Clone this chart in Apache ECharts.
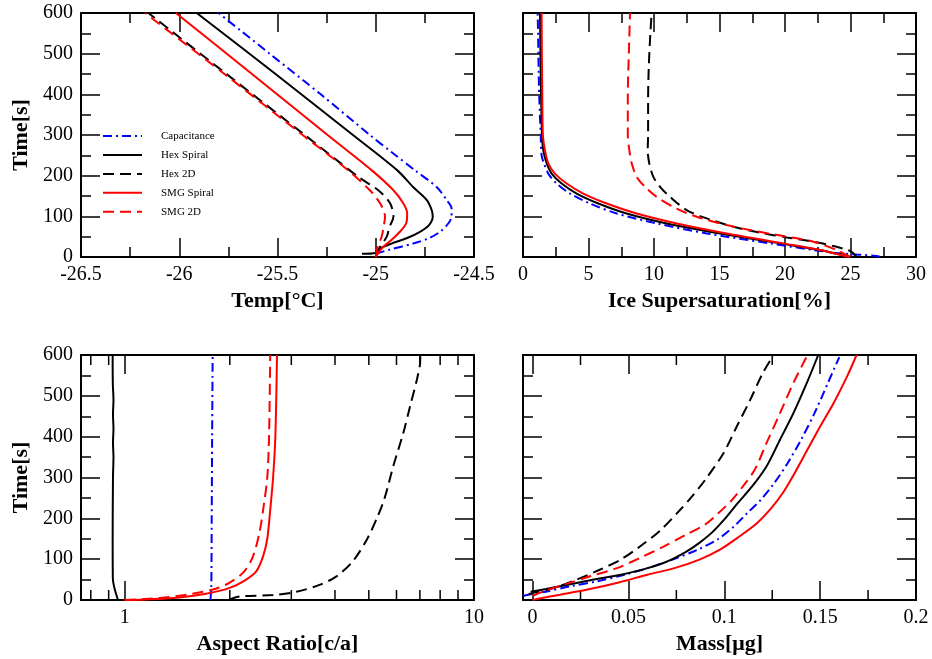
<!DOCTYPE html>
<html>
<head>
<meta charset="utf-8">
<script src="https://cdn.jsdelivr.net/npm/echarts@6/dist/echarts.min.js"></script>
<style>html,body{margin:0;padding:0;background:#fff}#c{width:932px;height:659px}</style>
</head>
<body>
<div id="c"></div>
<script>
// ---------- data: [x, time(s)] ----------
const seriesNames = ['Capacitance', 'Hex Spiral', 'Hex 2D', 'SMG Spiral', 'SMG 2D'];

// Panel 1: Temperature [°C]
const tempCap   = [[-25.0,8],[-24.93,18],[-24.81,33],[-24.73,46],[-24.673,62],[-24.63,83],[-24.614,100],[-24.614,119],[-24.639,140],[-24.69,172],[-24.80,213],[-24.92,258],[-25.03,300],[-25.28,400],[-25.54,500],[-25.80,600]];
const tempHexSp = [[-25.07,8],[-25.0,10],[-24.978,21],[-24.92,33],[-24.843,46],[-24.775,62],[-24.73,78],[-24.71,99],[-24.715,115],[-24.74,140],[-24.81,172],[-24.89,213],[-25.116,300],[-25.51,450],[-25.911,600]];
const tempHex2D = [[-25.0,3],[-24.978,25],[-24.944,50],[-24.93,74],[-24.91,99],[-24.927,132],[-24.987,164],[-25.089,197],[-25.361,300],[-25.76,450],[-26.157,600]];
const tempSmgSp = [[-25.0,0],[-24.97,21],[-24.92,42],[-24.877,62],[-24.845,83],[-24.84,107],[-24.86,132],[-24.91,164],[-25.02,213],[-25.245,300],[-25.63,450],[-26.017,600]];
const tempSmg2D = [[-25.0,0],[-24.99,25],[-24.97,50],[-24.96,74],[-24.953,99],[-24.978,132],[-25.03,164],[-25.14,213],[-25.372,300],[-25.77,450],[-26.174,600]];

// Panel 2: Ice supersaturation [%]
const supCap   = [[27.25,0],[27.0,2.5],[24.2,9],[22.16,17.2],[18.85,33.5],[14.02,58],[10.2,82.6],[7.15,107],[5.11,131.6],[3.59,156],[2.57,180.6],[1.93,205],[1.6,230],[1.42,250],[1.35,300],[1.25,385],[1.2,450],[1.15,550],[1.12,600]];
const supHexSp = [[24.96,0],[22.67,17.2],[19.62,33.5],[15.04,58],[10.97,82.6],[7.91,107],[5.75,131.6],[4.1,156],[2.95,180.6],[2.19,205],[1.81,230],[1.55,262],[1.45,300],[1.38,400],[1.33,500],[1.3,600]];
const supHex2D = [[25.47,0],[25.09,13],[24.58,18.8],[23.94,25.3],[22.16,37.6],[20.13,48.2],[18.09,59.7],[16.06,74.4],[14.02,95],[12.49,115.5],[11.22,148],[10.46,172.5],[9.95,197],[9.64,230],[9.52,262],[9.55,300],[9.55,385],[9.6,467],[9.72,548],[9.82,600]];
const supSmgSp = [[24.96,0],[24.58,2.5],[22.67,17.2],[19.87,33.5],[15.55,58],[11.73,82.6],[8.68,107],[6.39,131.6],[4.6,156],[3.33,180.6],[2.44,205],[1.93,230],[1.68,262],[1.52,300],[1.47,400],[1.44,500],[1.42,600]];
const supSmg2D = [[24.96,0],[24.83,2.5],[23.94,17.2],[22.16,37.6],[19.87,51.5],[17.58,64.6],[15.55,78.5],[13.26,99],[11.73,119],[10.2,148],[9.31,172.5],[8.68,197],[8.3,230],[8.12,262],[8.0,300],[8.0,400],[8.08,500],[8.17,600]];

// Panel 3: Aspect ratio [c/a] (log axis)
const arCap   = [[1.76,0],[1.77,30],[1.775,200],[1.78,400],[1.786,600]];
const arHexSp = [[0.957,0],[0.925,54],[0.924,150],[0.926,300],[0.929,350],[0.926,385],[0.929,420],[0.926,455],[0.929,490],[0.925,530],[0.924,600]];
const arHex2D = [[1.99,0],[2.05,5],[2.15,9],[2.66,12],[3.1,20],[3.61,37],[4.04,58],[4.5,95],[4.95,150],[5.3,205],[5.55,250],[5.87,327],[6.27,408],[6.56,474],[6.86,539],[7.0,575],[7.02,600]];
const arSmgSp = [[1.0,0],[1.15,1.5],[1.43,6.4],[1.71,15.4],[1.99,29],[2.2,47],[2.38,70],[2.49,107],[2.56,150],[2.61,220],[2.66,300],[2.70,400],[2.73,600]];
const arSmg2D = [[1.0,0],[1.26,5],[1.56,15],[1.83,28],[2.02,45],[2.2,70],[2.33,107],[2.43,164],[2.5,230],[2.56,300],[2.59,400],[2.61,600]];

// Panel 4: Mass [µg]
const massCap   = [[-0.005,10],[0.0,15],[0.0075,21],[0.02,34],[0.034,46],[0.048,62],[0.06,78],[0.073,99],[0.086,123],[0.097,150],[0.105,180],[0.112,213],[0.119,245],[0.126,286],[0.133,335],[0.14,392],[0.147,457],[0.154,531],[0.16,595]];
const massHexSp = [[-0.001,20],[0.007,27],[0.019,38],[0.032,50],[0.046,62],[0.06,78],[0.07,94],[0.08,118],[0.087,140],[0.0935,165],[0.1005,200],[0.107,237],[0.1145,278],[0.122,327],[0.129,392],[0.136,457],[0.143,531],[0.149,600]];
const massHex2D = [[-0.002,14],[0.0,17],[0.011,29],[0.023,50],[0.035,74],[0.046,99],[0.056,131],[0.067,172],[0.077,221],[0.0825,250],[0.09,294],[0.0995,359],[0.1065,425],[0.1135,490],[0.12,555],[0.1257,600]];
const massSmgSp = [[0,0],[0.0023,2.4],[0.0144,13],[0.028,25],[0.045,43],[0.06,62],[0.074,78],[0.087,99],[0.098,124],[0.108,156],[0.117,188],[0.1245,225],[0.1305,262],[0.136,305],[0.143,365],[0.15,425],[0.157,482],[0.164,547],[0.169,600]];
const massSmg2D = [[0.0,10],[0.005,20],[0.018,40],[0.03,58],[0.044,78],[0.056,103],[0.068,130],[0.08,160],[0.09,185],[0.097,213],[0.104,245],[0.11,280],[0.116,320],[0.122,384],[0.129,457],[0.136,531],[0.1434,600]];

// minor tick values drawn on the log and mass axes
const logMinorTicks  = [0.8, 0.9, 2, 3, 4, 5, 6, 7, 8, 9];
const massMinorTicks = [0.025, 0.075, 0.125, 0.175];

const panelData = [
  [tempCap, tempHexSp, tempHex2D, tempSmgSp, tempSmg2D],
  [supCap, supHexSp, supHex2D, supSmgSp, supSmg2D],
  [arCap, arHexSp, arHex2D, arSmgSp, arSmg2D],
  [massCap, massHexSp, massHex2D, massSmgSp, massSmg2D]
];

// ---------- styling ----------
const FONT = 'Liberation Serif';
const lineStyles = [
  {color: '#0000ff', type: [9, 4, 2, 4]},
  {color: '#000000', type: 'solid'},
  {color: '#000000', type: [11, 6]},
  {color: '#ff0000', type: 'solid'},
  {color: '#ff0000', type: [11, 6]}
];

const grids = [
  {left: 81, top: 13, width: 393, height: 244},
  {left: 523, top: 13, width: 393, height: 244},
  {left: 81, top: 355, width: 393, height: 245},
  {left: 523, top: 355, width: 393, height: 245}
];

function baseAxis(gridIndex, position, showLabel, minor) {
  return {
    gridIndex: gridIndex,
    position: position,
    axisLine: {show: true, onZero: false, lineStyle: {color: '#000', width: 2}},
    axisTick: {show: true, inside: true, length: 19, lineStyle: {color: '#000', width: 1.5}},
    minorTick: {show: minor, splitNumber: 2, length: 10, lineStyle: {color: '#000', width: 1.5}},
    splitLine: {show: false},
    minorSplitLine: {show: false},
    axisLabel: {show: showLabel, fontFamily: FONT, fontSize: 20, color: '#000', margin: 8},
    nameTextStyle: {fontFamily: FONT, fontSize: 22, fontWeight: 'bold', color: '#000'}
  };
}

const xSpecs = [
  {type: 'value', min: -26.5, max: -24.5, interval: 0.5, name: 'Temp[°C]', minor: true},
  {type: 'value', min: 0, max: 30, interval: 5, name: 'Ice Supersaturation[%]', minor: true},
  {type: 'log', min: 0.75, max: 10, logBase: 10, name: 'Aspect Ratio[c/a]', minor: false, hideMin: true},
  {type: 'value', min: -0.005, max: 0.2, splitNumber: 4, name: 'Mass[μg]', minor: false, hideMin: true}
];

const xAxes = [], yAxes = [];
xSpecs.forEach(function (sp, g) {
  const bottom = Object.assign(baseAxis(g, 'bottom', true, sp.minor), {
    type: sp.type, min: sp.min, max: sp.max,
    name: sp.name, nameLocation: 'middle', nameGap: 33
  });
  if (sp.interval) bottom.interval = sp.interval;
  if (sp.splitNumber) bottom.splitNumber = sp.splitNumber;
  if (sp.logBase) bottom.logBase = sp.logBase;
  if (sp.hideMin) bottom.axisLabel.showMinLabel = false;
  const top = Object.assign(baseAxis(g, 'top', false, sp.minor), {
    type: sp.type, min: sp.min, max: sp.max
  });
  if (sp.interval) top.interval = sp.interval;
  if (sp.splitNumber) top.splitNumber = sp.splitNumber;
  if (sp.logBase) top.logBase = sp.logBase;
  xAxes.push(bottom, top);

  const leftLabels = (g === 0 || g === 2);
  const left = Object.assign(baseAxis(g, 'left', leftLabels, true), {
    type: 'value', min: 0, max: 600, interval: 100
  });
  if (leftLabels) {
    left.name = 'Time[s]';
    left.nameLocation = 'middle';
    left.nameGap = 49;
  }
  const right = Object.assign(baseAxis(g, 'right', false, true), {
    type: 'value', min: 0, max: 600, interval: 100
  });
  yAxes.push(left, right);
});

const series = [];
panelData.forEach(function (list, g) {
  list.forEach(function (d, s) {
    series.push({
      type: 'line',
      name: seriesNames[s],
      xAxisIndex: g * 2,
      yAxisIndex: g * 2,
      data: d,
      symbol: 'none',
      showSymbol: false,
      smooth: 0.3,
      silent: true,
      lineStyle: {color: lineStyles[s].color, width: 2, type: lineStyles[s].type},
      itemStyle: {color: lineStyles[s].color}
    });
  });
});

function minorTickSeries(g, values) {
  return {
    type: 'custom',
    xAxisIndex: g * 2,
    yAxisIndex: g * 2,
    silent: true,
    clip: false,
    data: values.map(function (v) { return [v, 0]; }),
    encode: {x: 0, y: 1},
    renderItem: function (params, api) {
      const v = api.value(0);
      const b = api.coord([v, 0]);
      const t = api.coord([v, 600]);
      const st = {stroke: '#000', lineWidth: 1.5};
      return {
        type: 'group',
        children: [
          {type: 'line', shape: {x1: b[0], y1: b[1], x2: b[0], y2: b[1] - 10}, style: st},
          {type: 'line', shape: {x1: t[0], y1: t[1], x2: t[0], y2: t[1] + 10}, style: st}
        ]
      };
    }
  };
}
series.push(minorTickSeries(2, logMinorTicks));
series.push(minorTickSeries(3, massMinorTicks));

const option = {
  backgroundColor: '#fff',
  animation: false,
  grid: grids,
  xAxis: xAxes,
  yAxis: yAxes,
  legend: {
    orient: 'vertical',
    left: 102,
    top: 130.5,
    padding: 0,
    itemWidth: 39,
    itemHeight: 14,
    itemGap: 7.7,
    data: seriesNames,
    itemStyle: {opacity: 0},
    textStyle: {fontFamily: FONT, fontSize: 11, color: '#000', padding: [0, 0, 0, 14]}
  },
  series: series
};

const chart = echarts.init(document.getElementById('c'), null, {renderer: 'canvas'});
chart.setOption(option);
</script>
</body>
</html>
